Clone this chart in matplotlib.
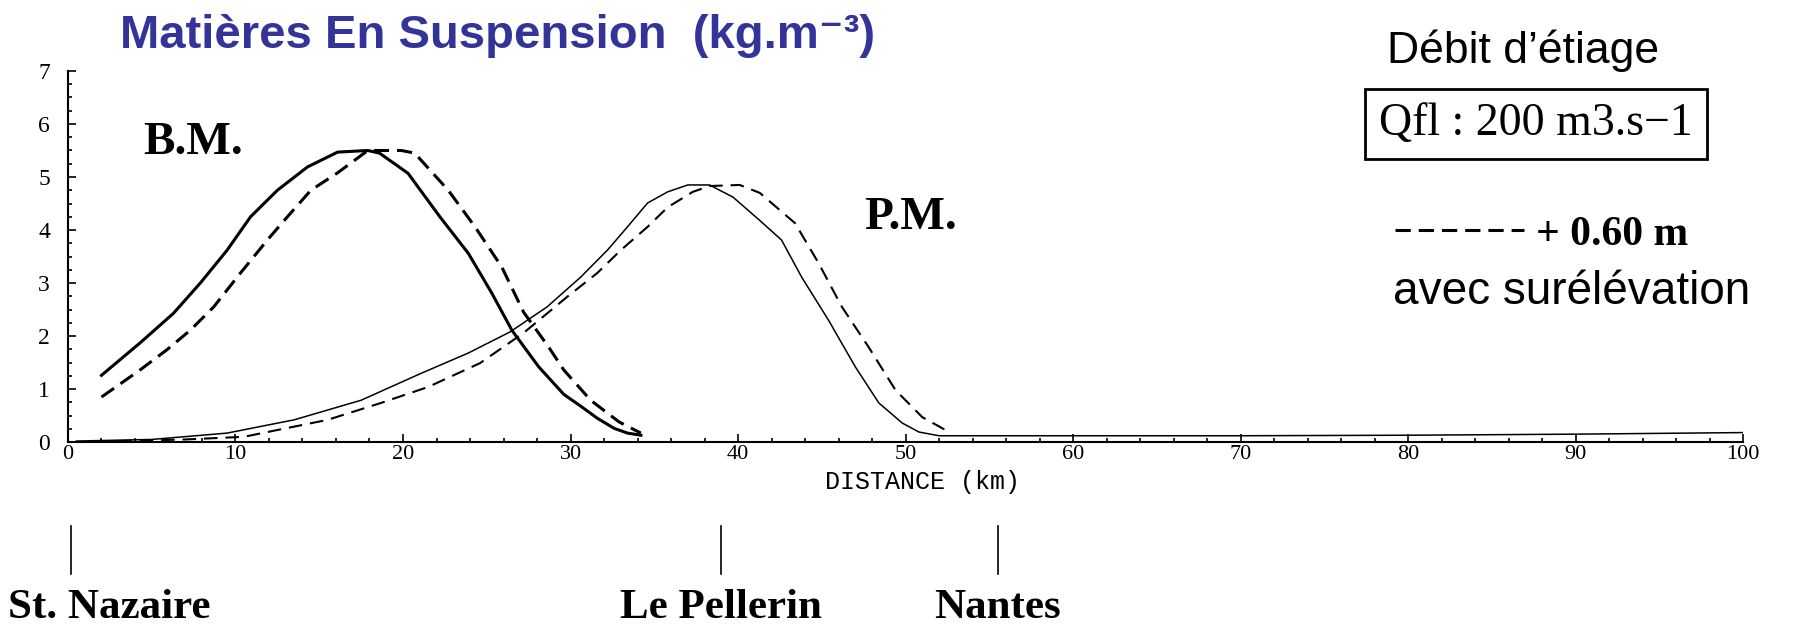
import matplotlib
matplotlib.use("Agg")
import matplotlib.pyplot as plt
from matplotlib.ticker import MultipleLocator
from matplotlib.transforms import blended_transform_factory

# Basse mer (B.M.) - trait plein et surélévation +0.60 m (tirets)
bm_x = [2.0, 4.3, 6.3, 7.9, 9.5, 10.9, 12.5, 14.3, 16.1, 17.9, 18.6, 20.3, 22.2, 23.9,
        25.3, 26.5, 28.1, 29.6, 30.6, 31.6, 32.6, 33.4, 34.2]
bm_y = [1.26, 1.87, 2.43, 3.00, 3.62, 4.25, 4.75, 5.19, 5.47, 5.50, 5.45, 5.07, 4.25, 3.56,
        2.81, 2.11, 1.42, 0.90, 0.68, 0.45, 0.26, 0.17, 0.13]
bm2_x = [2.0, 4.3, 5.9, 7.3, 8.7, 10.3, 11.9, 13.1, 14.5, 16.1, 17.9, 19.9, 20.7, 22.7,
         24.3, 25.9, 27.2, 28.7, 29.6, 31.2, 32.9, 34.2]
bm2_y = [0.85, 1.36, 1.74, 2.11, 2.55, 3.19, 3.81, 4.25, 4.75, 5.08, 5.50, 5.50, 5.45, 4.75,
         4.06, 3.30, 2.45, 1.79, 1.36, 0.79, 0.38, 0.17]

# Pleine mer (P.M.)
pm_x = [0.5, 5.0, 9.5, 13.5, 17.5, 21.1, 23.9, 26.4, 28.6, 30.6, 32.2, 33.4, 34.6, 35.8,
        37.0, 38.3, 39.7, 41.3, 42.6, 43.8, 45.4, 47.0, 48.4, 49.8, 50.8, 52.0,
        60.0, 70.0, 80.0, 90.0, 100.0]
pm_y = [0.02, 0.05, 0.17, 0.42, 0.79, 1.30, 1.68, 2.08, 2.55, 3.11, 3.62, 4.06, 4.51, 4.72,
        4.85, 4.85, 4.62, 4.18, 3.81, 3.11, 2.30, 1.42, 0.74, 0.36, 0.19, 0.12,
        0.12, 0.12, 0.13, 0.15, 0.18]
pm2_x = [3.0, 7.0, 10.5, 15.5, 18.7, 21.5, 24.6, 27.2, 29.8, 31.6, 33.0, 34.6, 35.8, 37.3,
         38.3, 40.1, 41.3, 43.4, 44.8, 46.2, 47.8, 49.4, 51.0, 52.6]
pm2_y = [0.02, 0.05, 0.10, 0.42, 0.74, 1.04, 1.49, 2.06, 2.74, 3.19, 3.62, 4.06, 4.43, 4.72,
         4.83, 4.85, 4.70, 4.13, 3.38, 2.55, 1.79, 0.98, 0.47, 0.19]

villes = ["St. Nazaire", "Le Pellerin", "Nantes"]
villes_km = [0.2, 39.0, 55.5]

fig = plt.figure(figsize=(17.98, 6.28), dpi=100)
ax = fig.add_axes([0.0378, 0.296, 0.9317, 0.591])

ax.plot(bm_x, bm_y, color="black", lw=2.2)
l_dash, = ax.plot(bm2_x, bm2_y, color="black", lw=2.2, linestyle=(0, (5, 2.6)))
ax.plot(pm_x, pm_y, color="black", lw=1.1)
ax.plot(pm2_x, pm2_y, color="black", lw=1.5, linestyle=(0, (6.5, 3.8)))

ax.set_xlim(0, 100)
ax.set_ylim(0, 7)
ax.spines["top"].set_visible(False)
ax.spines["right"].set_visible(False)
ax.spines["left"].set_linewidth(1.5)
ax.spines["bottom"].set_linewidth(1.5)
ax.xaxis.set_major_locator(MultipleLocator(10))
ax.xaxis.set_minor_locator(MultipleLocator(2))
ax.yaxis.set_major_locator(MultipleLocator(1))
ax.yaxis.set_minor_locator(MultipleLocator(0.25))
ax.tick_params(which="both", direction="in", width=1.2)
ax.tick_params(which="major", length=6)
ax.tick_params(which="minor", length=3)
ax.tick_params(axis="y", which="major", pad=13)
ax.tick_params(axis="x", which="major", pad=2)
for lab in ax.get_xticklabels():
    lab.set_family("Liberation Serif")
    lab.set_fontsize(16)
for lab in ax.get_yticklabels():
    lab.set_family("Liberation Serif")
    lab.set_fontsize(17)

ax.set_xlabel("DISTANCE (km)", family="Liberation Mono", fontsize=18)
ax.xaxis.set_label_coords(0.51, -0.075)

ax.text(7.5, 5.64, "B.M.", family="Liberation Serif", weight="bold", fontsize=34,
        ha="center", va="center")
ax.text(50.3, 4.23, "P.M.", family="Liberation Serif", weight="bold", fontsize=34,
        ha="center", va="center")

# repères des villes sous l'axe
trans = blended_transform_factory(ax.transData, ax.transAxes)
for nom, km in zip(villes, villes_km):
    ax.plot([km, km], [-0.225, -0.355], color="black", lw=1.2, transform=trans, clip_on=False)
    ax.text(km + (2.25 if km < 1 else 0), -0.475, nom, transform=trans, ha="center",
            va="baseline", family="Liberation Serif", weight="bold", fontsize=31)

fig.text(0.0667, 0.923, "Matières En Suspension  (kg.m⁻³)", color="#333399",
         family=["Liberation Sans", "DejaVu Sans"], weight="bold", fontsize=34, va="baseline")

fig.text(0.7714, 0.90, "Débit d’étiage", family="Liberation Sans", fontsize=32, va="baseline")
fig.text(0.767, 0.785, "Qfl : 200 m3.s−1", family="Liberation Serif", fontsize=33,
         va="baseline", bbox=dict(boxstyle="square,pad=0.3", fc="white", ec="black", lw=2))
fig.legend([l_dash], ["+ 0.60 m"], loc="center left", bbox_to_anchor=(0.776, 0.626),
           frameon=False, handlelength=3.1, handletextpad=0.27, borderpad=0, borderaxespad=0,
           prop=dict(family="Liberation Serif", weight="bold", size=30))
fig.text(0.7748, 0.516, "avec surélévation", family="Liberation Sans", fontsize=33,
         va="baseline")

fig.savefig("out.png", dpi=100)
